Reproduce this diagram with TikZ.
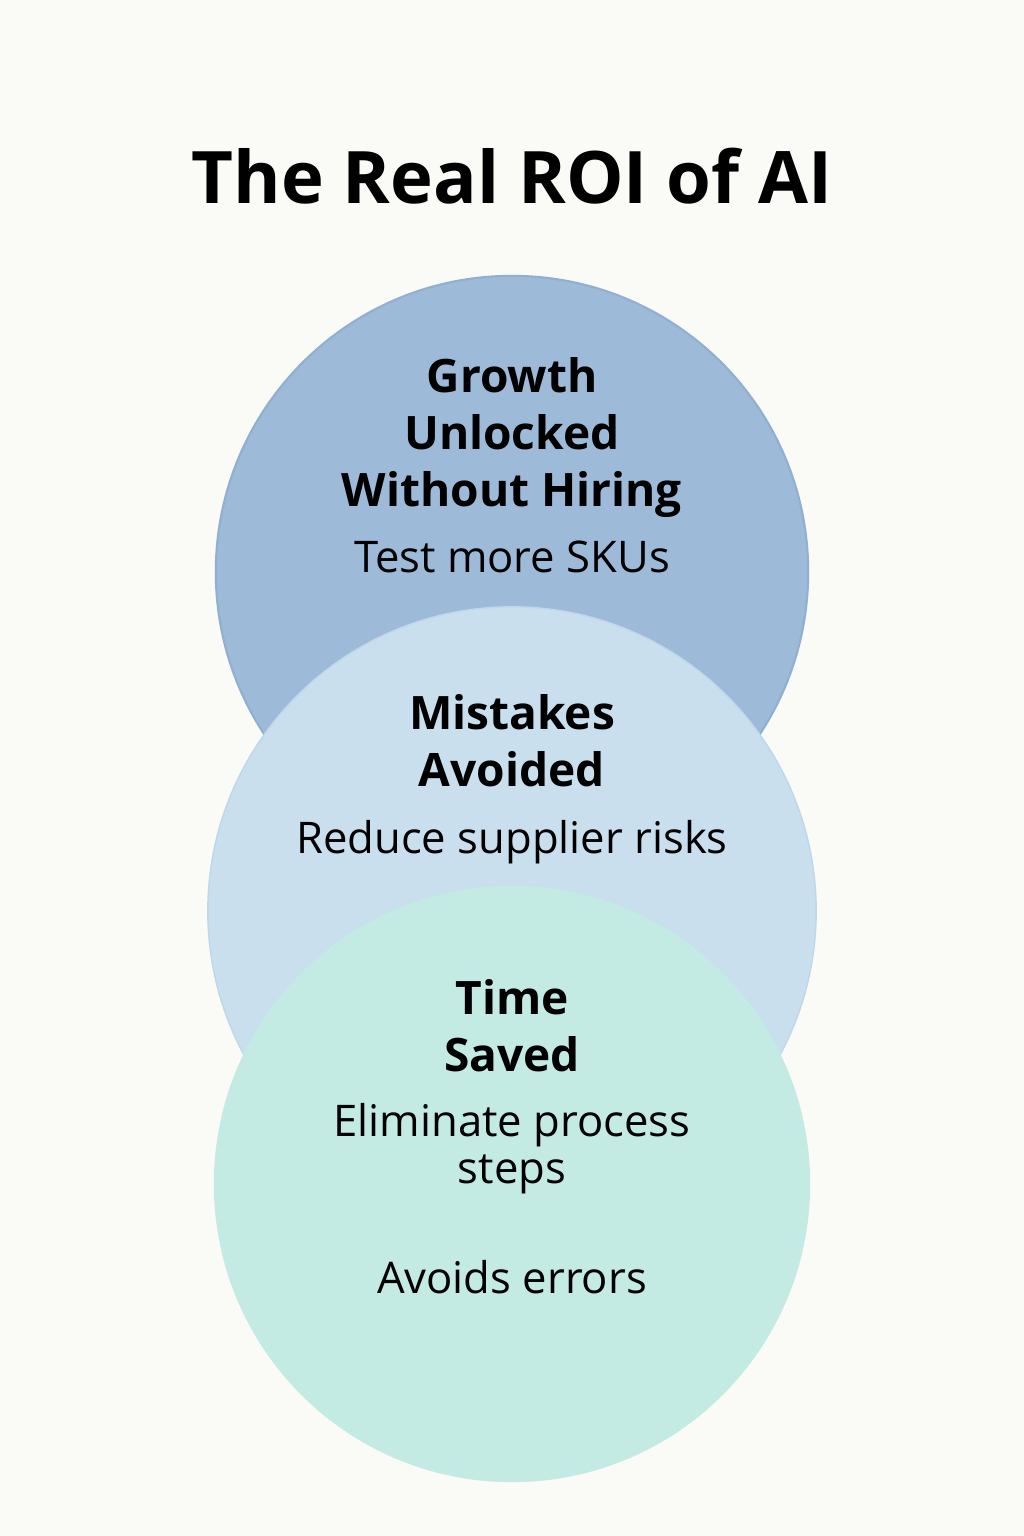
\documentclass[tikz,border=0pt]{standalone}
\usepackage{fontspec}
\setmainfont{Open Sans}
\definecolor{backdrop}{HTML}{FAFAF7}
\definecolor{growth}{HTML}{9DBBD9}
\definecolor{growth edge}{HTML}{8FB0D3}
\definecolor{mistakes}{HTML}{C9DFEE}
\definecolor{mistakes edge}{HTML}{BED7EA}
\definecolor{time}{HTML}{C4EAE4}
\begin{document}
\begin{tikzpicture}[x=0.01cm,y=-0.01cm]

\tikzset{
    every node/.style={inner sep=0pt, text=black},
    bubble/.style={circle, minimum size=#1},
    title/.style={anchor=base, font=\fontsize{20.6pt}{25pt}\selectfont\bfseries},
    heading/.style={anchor=base, align=center, font=\fontsize{13.1pt}{16.2pt}\selectfont\bfseries},
    detail/.style={anchor=base, align=center, font=\fontsize{12.4pt}{13.3pt}\selectfont}
}

\fill[backdrop] (0,0) rectangle (1024,1536);

\node[title] (TITLE) at (512,203) {The Real ROI of AI};

\node[bubble=5.92cm, fill=growth, draw=growth edge, line width=0.6pt] (GROWTH) at (512,572) {};
\node[bubble=6.08cm, fill=mistakes, draw=mistakes edge, line width=0.4pt] (MISTAKES) at (512,911) {};
\node[bubble=5.96cm, fill=time] (TIME) at (512,1184) {};

% base anchor sits on the last line
\node[heading] (GROWTH head) at (512,506) {Growth\\Unlocked\\Without Hiring};
\node[detail] (GROWTH text) at (512,572) {Test more SKUs};

\node[heading] (MISTAKES head) at (512,786) {Mistakes\\Avoided};
\node[detail] (MISTAKES text) at (512,853) {Reduce supplier risks};

\node[heading] (TIME head) at (512,1071) {Time\\Saved};
\node[detail] (TIME text) at (512,1183) {Eliminate process\\steps};
\node[detail] (TIME extra) at (512,1293) {Avoids errors};

\end{tikzpicture}
\end{document}
